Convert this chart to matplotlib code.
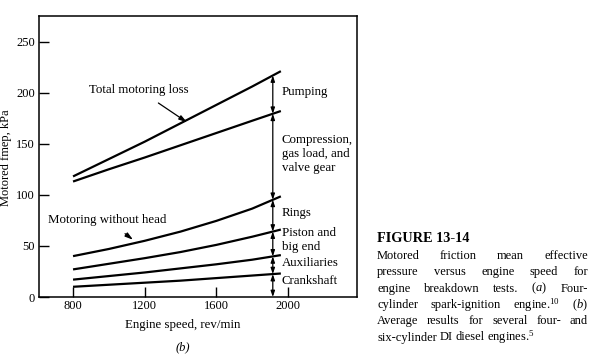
#motored friction mep vs engine speed, engine breakdown tests (figure 13-14 b)

import numpy as np
import matplotlib.pyplot as plt

plt.rcParams['font.family'] = ['Liberation Serif', 'DejaVu Serif']
plt.rcParams['mathtext.fontset'] = 'custom'
plt.rcParams['mathtext.rm'] = 'Liberation Serif'
plt.rcParams['mathtext.it'] = 'Liberation Serif:italic'

# data (kPa)
speed = [800, 1000, 1200, 1400, 1600, 1800, 1960]
total_loss = [118, 135, 152, 170, 188, 206, 221]
compression_top = [113, 125, 136.5, 148.5, 160.5, 172.5, 182]
without_head = [40, 47, 55, 64, 74.5, 86.5, 98.5]
piston_top = [27, 32.5, 38, 44, 51, 59, 66]
auxiliaries_top = [17, 20.5, 24, 28, 32, 36.5, 41]
crankshaft_top = [10, 12, 14, 16, 18.5, 21, 23]

arrow_speed = 1915
component_labels = ["Crankshaft", "Auxiliaries", "Piston and\nbig end", "Rings",
                    "Compression,\ngas load, and\nvalve gear", "Pumping"]
label_values = [16, 33, 55.5, 82, 140, 201]

x_ticks = [800, 1200, 1600, 2000]
y_ticks = [0, 50, 100, 150, 200, 250]

W, H = 597, 364
fig = plt.figure(figsize=(W / 100, H / 100), dpi=100)
ax = fig.add_axes([39 / W, 1 - 297 / H, (357 - 39) / W, (297 - 16) / H])

lines = [crankshaft_top, auxiliaries_top, piston_top, without_head, compression_top, total_loss]
for vals in lines:
    ax.plot(speed, vals, color='black', lw=1.6, solid_capstyle='butt')

# vertical double arrows between the curves
bounds = [0] + [np.interp(arrow_speed, speed, v) for v in lines]
for lo, hi in zip(bounds[:-1], bounds[1:]):
    ax.annotate("", xy=(arrow_speed, hi), xytext=(arrow_speed, lo),
                arrowprops=dict(arrowstyle='<|-|>,head_length=0.35,head_width=0.12',
                                color='black', lw=0.9, shrinkA=0, shrinkB=0))

for txt, v in zip(component_labels, label_values):
    ax.text(1965, v, txt, fontsize=9.3, va='center', ha='left', linespacing=1.2)

ax.annotate("Total motoring loss", xy=(1436, 171), xytext=(1165, 203),
            fontsize=9.3, ha='center', va='center',
            arrowprops=dict(arrowstyle='-|>,head_length=0.5,head_width=0.15',
                            color='black', lw=0.9, shrinkA=6, shrinkB=0))
ax.annotate("Motoring without head", xy=(1135, 56), xytext=(989, 75.5),
            fontsize=9.3, ha='center', va='center',
            arrowprops=dict(arrowstyle='-|>,head_length=0.5,head_width=0.15',
                            color='black', lw=0.9, shrinkA=6, shrinkB=0))

ax.set_xlim(610, 2385)
ax.set_ylim(0, 275)
ax.set_xticks(x_ticks)
ax.set_yticks(y_ticks)
ax.tick_params(direction='in', length=7, width=1, labelsize=9, pad=3)
ax.tick_params(axis='x', pad=2)
for sp in ax.spines.values():
    sp.set_linewidth(1.1)

fig.text(183 / W, 1 - 325 / H, "Engine speed, rev/min", fontsize=9.3, ha='center', va='center')
fig.text(183 / W, 1 - 347 / H, "(b)", fontsize=9, style='italic', ha='center', va='center')
fig.text(6 / W, 1 - 158 / H, "Motored fmep, kPa", fontsize=9, rotation=90,
         ha='center', va='center')

# caption, justified by hand
fig.text(377 / W, 1 - 238 / H, "FIGURE 13-14", fontsize=10.3, weight='bold',
         ha='left', va='center')
caption = [
    "Motored friction mean effective",
    "pressure versus engine speed for",
    "engine breakdown tests. ($\\mathit{a}$) Four-",
    "cylinder spark-ignition engine.$^\\mathrm{10}$ ($\\mathit{b}$)",
    "Average results for several four- and",
    "six-cylinder DI diesel engines.$^\\mathrm{5}$",
]
x0, x1 = 377, 588
fig.canvas.draw()
renderer = fig.canvas.get_renderer()
for i, line in enumerate(caption):
    y = 1 - (256 + i * 16.3) / H
    words = line.split(" ")
    texts = [fig.text(0, y, w, fontsize=9, ha='left', va='center') for w in words]
    widths = [t.get_window_extent(renderer).width for t in texts]
    if i == len(caption) - 1:
        gap = 2.8
    else:
        gap = (x1 - x0 - sum(widths)) / (len(words) - 1)
    x = x0
    for t, w in zip(texts, widths):
        t.set_x(x / W)
        x += w + gap

fig.savefig("out.png", dpi=100)
